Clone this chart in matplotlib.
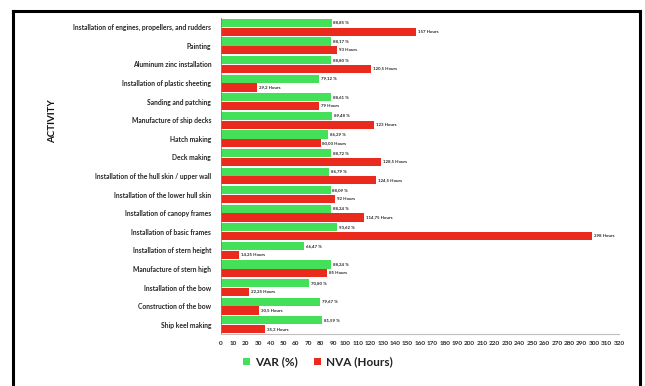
import matplotlib
matplotlib.use("Agg")
import matplotlib.pyplot as plt
from matplotlib.lines import Line2D
import numpy as np

activities = [
    "Installation of engines, propellers, and rudders",
    "Painting",
    "Aluminum zinc installation",
    "Installation of plastic sheeting",
    "Sanding and patching",
    "Manufacture of ship decks",
    "Hatch making",
    "Deck making",
    "Installation of the hull skin / upper wall",
    "Installation of the lower hull skin",
    "Installation of canopy frames",
    "Installation of basic frames",
    "Installation of stern height",
    "Manufacture of stern high",
    "Installation of the bow",
    "Construction of the bow",
    "Ship keel making",
]
var_pct = [88.85, 88.17, 88.80, 79.12, 88.61, 89.48, 86.29, 88.72, 86.79,
           88.09, 88.24, 93.62, 66.47, 88.24, 70.80, 79.67, 81.59]
nva_hours = [157, 93, 120.5, 29.2, 79, 123, 80.00, 128.5, 124.5,
             92, 114.75, 298, 14.25, 85, 22.25, 30.5, 35.3]
nva_labels = ["157", "93", "120,5", "29,2", "79", "123", "80,00", "128,5", "124,5",
              "92", "114,75", "298", "14,25", "85", "22,25", "30,5", "35,3"]
xticks = list(range(0, 321, 10))

GREEN = "#45E05A"
RED = "#EA2A1C"
FONT = "Lato"
TXT = "#262626"

fig = plt.figure(figsize=(6.45, 3.86), dpi=100)
ax = fig.add_axes([221/645, 1-334/386, 398/645, 316/386])

y = np.arange(len(activities))
h = 0.44
off = 0.235
ax.barh(y - off, var_pct, height=h, color=GREEN, label="VAR (%)")
ax.barh(y + off, nva_hours, height=h, color=RED, label="NVA (Hours)")

for yi, v in zip(y, var_pct):
    ax.text(v + 1.5, yi - off, f"{v:.2f} %".replace(".", ","), va="center", ha="left",
            fontsize=3.2, fontweight="bold", family=FONT, color=TXT)
for yi, v, s in zip(y, nva_hours, nva_labels):
    ax.text(v + 1.5, yi + off, f"{s} Hours", va="center", ha="left",
            fontsize=3.2, fontweight="bold", family=FONT, color=TXT)

ax.set_xlim(0, 320)
ax.set_ylim(len(activities) - 0.5, -0.5)
ax.set_xticks(xticks)
ax.set_xticklabels([str(t) for t in xticks], fontsize=4.6, fontweight="bold",
                   family=FONT, color=TXT)
ax.set_yticks(y)
ax.set_yticklabels(activities, fontsize=4.9, fontweight="bold", family=FONT, color=TXT)
ax.tick_params(axis="both", length=0)
ax.tick_params(axis="x", pad=5)
ax.tick_params(axis="y", pad=7)
for s in ["top", "right"]:
    ax.spines[s].set_visible(False)
ax.spines["bottom"].set_color("#BFBFBF")
ax.spines["bottom"].set_linewidth(0.8)
ax.spines["left"].set_color("#808080")
ax.spines["left"].set_linewidth(0.6)

fig.text(53/645, 1-121/386, "ACTIVITY", rotation=90, ha="center", va="center",
         fontsize=7, fontweight="bold", family=FONT, color="#111111")

leg = fig.legend(loc="center", bbox_to_anchor=(318/645, 1-362/386), ncol=2,
                 frameon=False, prop={"family": FONT, "weight": "bold", "size": 8.5},
                 handlelength=0.6, handleheight=0.6, columnspacing=1.4, handletextpad=0.4)
for t in leg.get_texts():
    t.set_color("#222222")

# outer frame
lw = 2.2
fig.add_artist(Line2D([13/645, 13/645], [0, 1-11/386], color="black", lw=lw,
                      transform=fig.transFigure))
fig.add_artist(Line2D([13/645, 640/645], [1-11/386, 1-11/386], color="black", lw=lw,
                      transform=fig.transFigure))
fig.add_artist(Line2D([640/645, 640/645], [0, 1-11/386], color="black", lw=lw,
                      transform=fig.transFigure))

fig.savefig("out.png", dpi=100)
